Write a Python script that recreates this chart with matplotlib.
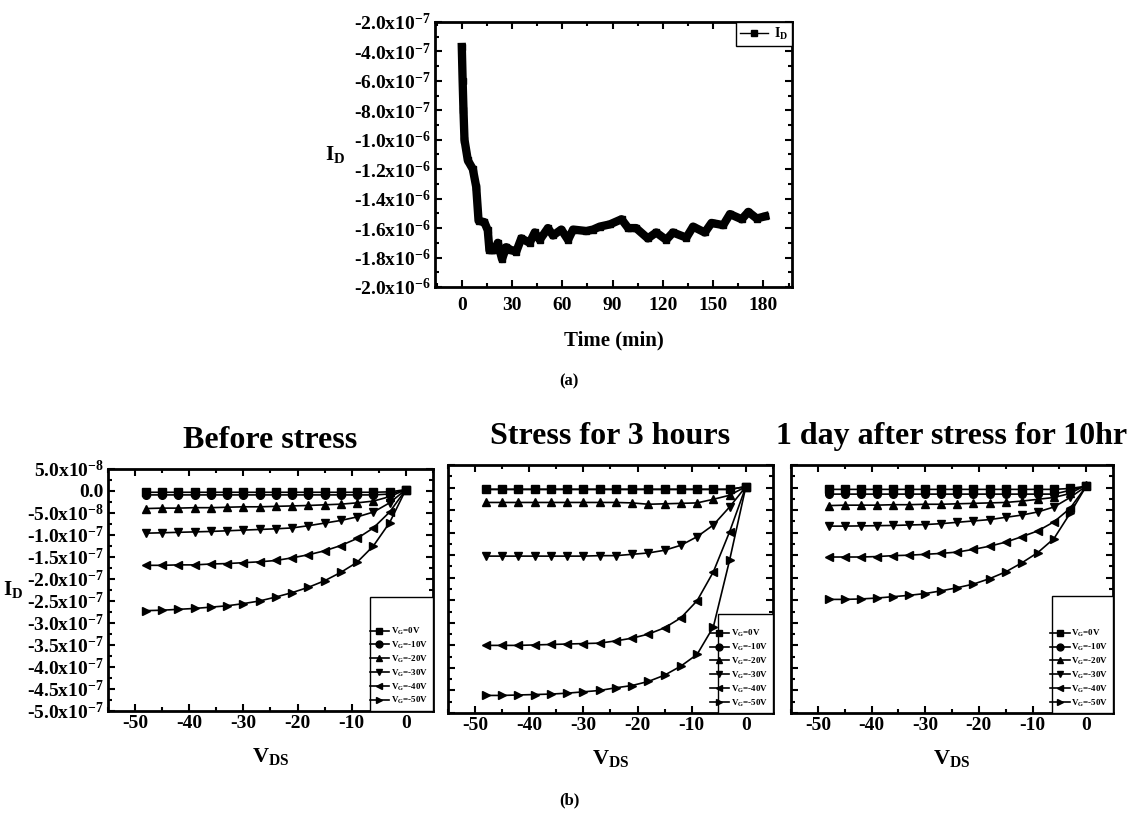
import numpy as np
import matplotlib
matplotlib.use("Agg")
import matplotlib.pyplot as plt
from matplotlib.ticker import MultipleLocator, FuncFormatter
from matplotlib.lines import Line2D
from matplotlib.patches import Rectangle

plt.rcParams['font.family'] = ['Liberation Serif', 'DejaVu Serif']
plt.rcParams['font.weight'] = 'bold'
plt.rcParams['axes.unicode_minus'] = False
plt.rcParams['mathtext.fontset'] = 'custom'
plt.rcParams['mathtext.rm'] = 'Liberation Serif:bold'
plt.rcParams['mathtext.it'] = 'Liberation Serif:bold'
plt.rcParams['mathtext.bf'] = 'Liberation Serif:bold'
plt.rcParams['mathtext.default'] = 'rm'

########################
# data: (a) drain current vs time
########################
time_min = [0, 0.5, 1, 1.6, 3.6, 6.6, 8.6, 10, 13.5, 15.5, 16.5, 19.5, 21.5, 24,
            26.5, 29.5, 32.5, 35.5, 40.5, 43.5, 46.5, 51.4, 54.4, 59.4, 63.4,
            66.4, 74.3, 78.3, 82.3, 88.3, 95.3, 99.3, 104, 111, 116, 122, 126,
            134, 138, 145, 149, 156, 160, 167, 171, 176, 181]
id_time = [-0.37, -0.60, -0.80, -1.00, -1.14, -1.20, -1.32, -1.55, -1.56, -1.615,
           -1.75, -1.75, -1.70, -1.81, -1.73, -1.75, -1.76, -1.67, -1.70, -1.63,
           -1.68, -1.60, -1.65, -1.61, -1.68, -1.61, -1.62, -1.61, -1.59, -1.575,
           -1.54, -1.60, -1.60, -1.67, -1.63, -1.68, -1.63, -1.665, -1.59, -1.63,
           -1.565, -1.58, -1.505, -1.54, -1.49, -1.535, -1.52]  # x1e-6 A

########################
# data: (b) output curves, I_D in 1e-8 A
########################
vds = [-48, -45, -42, -39, -36, -33, -30, -27, -24, -21, -18, -15, -12, -9, -6, -3, 0]
vg_labels = ['V$_G$=0V', 'V$_G$=-10V', 'V$_G$=-20V', 'V$_G$=-30V', 'V$_G$=-40V', 'V$_G$=-50V']
titles = ['Before stress', 'Stress for 3 hours', '1 day after stress for 10hr']

before_0 = [-0.3] * 15 + [-0.2, 0.3]
before_10 = [-0.9] * 15 + [-0.7, 0.3]
before_20 = [-4.0, -3.9, -3.9, -3.8, -3.8, -3.7, -3.6, -3.6, -3.5, -3.4, -3.3, -3.15, -3.0, -2.7, -2.3, -1.3, 0.3]
before_30 = [-9.6, -9.5, -9.4, -9.3, -9.2, -9.05, -8.9, -8.75, -8.6, -8.4, -7.9, -7.3, -6.7, -5.9, -4.8, -2.7, 0.3]
before_40 = [-16.9, -16.9, -16.8, -16.8, -16.6, -16.5, -16.3, -16.1, -15.8, -15.2, -14.5, -13.6, -12.4, -10.8, -8.4, -4.8, 0.3]
before_50 = [-27.2, -27.1, -26.9, -26.7, -26.4, -26.1, -25.6, -25.0, -24.1, -23.1, -21.9, -20.4, -18.5, -16.2, -12.5, -7.2, 0.3]

stress_0 = [-0.4] * 16 + [0.2]
stress_10 = [-0.4] * 16 + [0.2]
stress_20 = [-3.3, -3.3, -3.3, -3.3, -3.3, -3.3, -3.3, -3.3, -3.3, -3.4, -3.7, -3.6, -3.5, -3.4, -2.6, -1.7, 0.2]
stress_30 = [-15.2, -15.2, -15.2, -15.2, -15.2, -15.2, -15.2, -15.1, -15.1, -14.8, -14.5, -13.9, -12.8, -10.9, -8.3, -4.3, 0.2]
stress_40 = [-35.0, -35.0, -35.0, -34.9, -34.8, -34.7, -34.6, -34.5, -34.0, -33.4, -32.5, -31.1, -28.9, -25.1, -18.7, -9.8, 0.2]
stress_50 = [-46.1, -46.1, -46.0, -45.9, -45.8, -45.6, -45.3, -45.0, -44.4, -43.9, -43.0, -41.6, -39.6, -37.0, -30.9, -16.1, 0.2]

after_0 = [-0.4] * 15 + [-0.2, 0.3]
after_10 = [-1.45] * 15 + [-0.6, 0.3]
after_20 = [-4.0, -3.9, -3.9, -3.9, -3.8, -3.8, -3.7, -3.7, -3.6, -3.5, -3.4, -3.3, -3.0, -2.6, -2.2, -1.3, 0.6]
after_30 = [-8.55, -8.55, -8.5, -8.45, -8.4, -8.3, -8.2, -8.0, -7.7, -7.4, -7.1, -6.6, -6.1, -5.4, -4.3, -2.2, 0.3]
after_40 = [-15.4, -15.4, -15.4, -15.3, -15.1, -15.0, -14.8, -14.6, -14.3, -13.7, -13.0, -12.1, -10.9, -9.6, -7.6, -4.6, 0.3]
after_50 = [-24.8, -24.8, -24.7, -24.5, -24.2, -23.9, -23.5, -22.9, -22.2, -21.4, -20.2, -18.7, -16.7, -14.4, -11.3, -5.7, 0.3]

panels = [
    [before_0, before_10, before_20, before_30, before_40, before_50],
    [stress_0, stress_10, stress_20, stress_30, stress_40, stress_50],
    [after_0, after_10, after_20, after_30, after_40, after_50],
]
markers = ['s', 'o', '^', 'v', '<', '>']


def sci_fmt(v, pos):
    if abs(v) < 1e-15:
        return '0.0'
    exp = int(np.floor(np.log10(abs(v)) + 1e-9))
    mant = v / 10.0 ** exp
    return f'{mant:.1f}x10$^{{{exp}}}$'


def style_axes(ax):
    for sp in ax.spines.values():
        sp.set_linewidth(2)
    ax.tick_params(which='both', direction='in', top=True, right=True, width=1.5)
    ax.tick_params(which='major', length=5, labelsize=14, pad=3)
    ax.tick_params(which='minor', length=3)


fig = plt.figure(figsize=(11.39, 8.19), dpi=100)

# ---- (a) ----
ax_a = fig.add_axes([0.3819, 0.6496, 0.3134, 0.3236])
ax_a.plot(time_min, np.array(id_time) * 1e-6, color='black', lw=6,
          marker='s', ms=5, solid_joinstyle='round')
ax_a.set_xlim(-16, 197)
ax_a.set_ylim(-2.0e-6, -2.0e-7)
ax_a.xaxis.set_major_locator(MultipleLocator(30))
ax_a.xaxis.set_minor_locator(MultipleLocator(15))
ax_a.yaxis.set_major_locator(MultipleLocator(2e-7))
ax_a.yaxis.set_minor_locator(MultipleLocator(1e-7))
ax_a.yaxis.set_major_formatter(FuncFormatter(sci_fmt))
style_axes(ax_a)
ax_a.tick_params(axis='x', which='major', pad=7)
ax_a.set_xlabel('Time (min)', fontsize=15, fontweight='bold', labelpad=12)
ax_a.set_ylabel('I$_D$', fontsize=15, fontweight='bold', rotation=0, labelpad=14, va='center')
proxy = Line2D([], [], color='black', lw=1, marker='s', ms=4)
leg = ax_a.legend([proxy], ['I$_D$'], loc='upper right', fontsize=10, fancybox=False,
                  edgecolor='black', borderaxespad=0, handlelength=2.0,
                  handletextpad=0.4, borderpad=0.3, framealpha=1)
leg.get_frame().set_linewidth(1)
fig.text(0.4996, 0.5348, '(a)', ha='center', va='center', fontsize=12, fontweight='bold')

# ---- (b) ----
positions = [[0.0948, 0.1319, 0.2853, 0.2955],
             [0.3933, 0.1294, 0.2853, 0.3028],
             [0.6945, 0.1294, 0.2827, 0.3028]]
box_geom = [(0.806, 0.47), (0.83, 0.40), (0.81, 0.47)]

for i, pos in enumerate(positions):
    ax = fig.add_axes(pos)
    for curve, mk, lab in zip(panels[i], markers, vg_labels):
        ax.plot(vds, np.array(curve) * 1e-8, color='black', lw=1.2,
                marker=mk, ms=5.5, label=lab)
    ax.set_xlim(-55, 5)
    ax.set_ylim(-5.0e-7, 5.0e-8)
    ax.xaxis.set_major_locator(MultipleLocator(10))
    ax.xaxis.set_minor_locator(MultipleLocator(5))
    ax.yaxis.set_major_locator(MultipleLocator(5e-8))
    ax.yaxis.set_minor_locator(MultipleLocator(2.5e-8))
    style_axes(ax)
    if i == 0:
        ax.yaxis.set_major_formatter(FuncFormatter(sci_fmt))
        ax.set_ylabel('I$_D$', fontsize=15, fontweight='bold', rotation=0,
                      labelpad=10, va='center')
    else:
        ax.tick_params(labelleft=False)
    ax.set_xlabel('V$_{DS}$', fontsize=16, fontweight='bold', labelpad=10)
    ax.set_title(titles[i], fontsize=23, fontweight='bold', pad=15)
    x0, h = box_geom[i]
    ax.add_patch(Rectangle((x0, 0), 1 - x0, h, transform=ax.transAxes,
                           facecolor='white', edgecolor='black', lw=1, zorder=3))
    lg = ax.legend(loc='lower right', fontsize=6.5, frameon=False, borderaxespad=0.1,
                   handlelength=2.2, labelspacing=0.3, handletextpad=0.2,
                   markerscale=0.9)
    lg.set_zorder(4)

fig.text(0.4996, 0.0232, '(b)', ha='center', va='center', fontsize=12, fontweight='bold')

fig.savefig('out.png', dpi=100)
